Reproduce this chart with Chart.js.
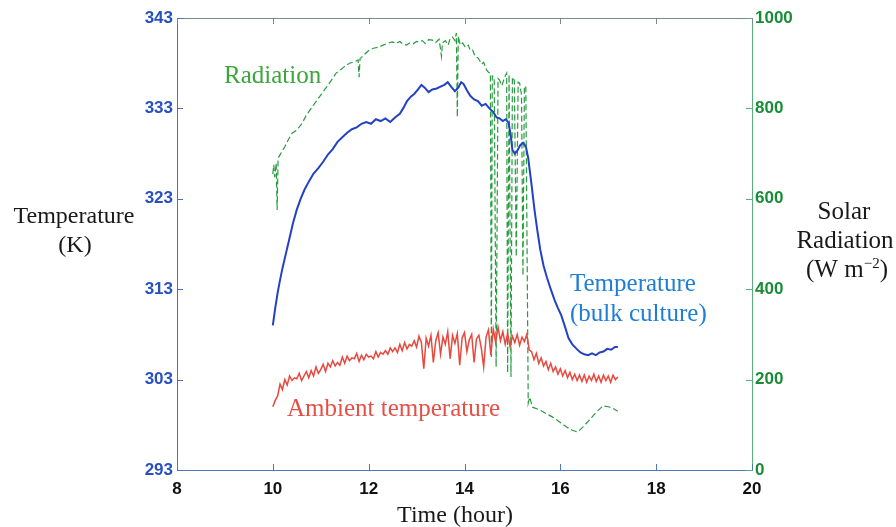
<!DOCTYPE html>
<html>
<head>
<meta charset="utf-8">
<script src="https://cdn.jsdelivr.net/npm/chart.js@4.4.0/dist/chart.umd.min.js"></script>
<style>
  html, body { margin: 0; padding: 0; background: #fff; }
  #wrap { width: 896px; height: 527px; }
</style>
</head>
<body>
<div id="wrap"><canvas id="solarChart" width="896" height="527"></canvas></div>
<script>
// tick values
const timeTicks = [8, 10, 12, 14, 16, 18, 20];
const tempTicks = [293, 303, 313, 323, 333, 343];
const radTicks = [0, 200, 400, 600, 800, 1000];

// bulk culture temperature (K)
const bulkTime = [10.00, 10.05, 10.10, 10.15, 10.20, 10.28, 10.35, 10.42, 10.50, 10.58, 10.66, 10.75, 10.85, 10.95,
  11.05, 11.15, 11.25, 11.35, 11.45, 11.55, 11.65, 11.75, 11.85, 11.95, 12.05, 12.15, 12.25, 12.35, 12.45, 12.55,
  12.65, 12.72, 12.80, 12.88, 12.95, 13.03, 13.10, 13.17, 13.25, 13.33, 13.42, 13.50, 13.58, 13.65, 13.72, 13.80,
  13.87, 13.93, 13.98, 14.05, 14.12, 14.20, 14.28, 14.36, 14.44, 14.52, 14.60, 14.67, 14.73, 14.80, 14.86, 14.92,
  14.96, 15.00, 15.05, 15.10, 15.16, 15.22, 15.28, 15.33, 15.40, 15.46, 15.52, 15.58, 15.65, 15.72, 15.80, 15.88,
  15.95, 16.02, 16.10, 16.17, 16.25, 16.34, 16.42, 16.50, 16.58, 16.66, 16.74, 16.82, 16.90, 16.98, 17.06, 17.14, 17.20];
const bulkTemp = [309.0, 310.9, 312.6, 314.0, 315.3, 317.1, 318.7, 320.3, 321.8, 323.0, 324.0, 324.9, 325.8, 326.4,
  327.1, 327.9, 328.5, 329.3, 329.8, 330.3, 330.7, 330.9, 331.3, 331.5, 331.3, 331.8, 331.6, 331.9, 331.5, 332.0,
  332.4, 333.0, 333.8, 334.3, 334.6, 335.1, 335.6, 335.3, 334.8, 335.1, 335.2, 335.4, 335.6, 335.9, 335.4, 334.9,
  335.3, 335.9, 335.7, 335.0, 334.4, 334.0, 333.8, 333.3, 333.5, 333.0, 332.6, 332.0, 331.9, 331.6, 331.8, 331.4,
  330.2, 328.4, 328.0, 328.3, 328.9, 329.2, 328.8, 327.5, 324.5, 321.8, 319.5, 317.4, 315.6, 314.3, 313.0, 311.8,
  310.9, 310.1, 308.8, 307.6, 306.9, 306.4, 306.0, 305.8, 305.7, 305.9, 305.7, 306.0, 306.1, 306.4, 306.3, 306.6, 306.6];

// ambient temperature (K), sampled every 0.05 h from 10.00 to 17.20
const ambStart = 10.0;
const ambStep = 0.05;
const ambTemp = [300.0, 300.7, 301.2, 302.5, 301.9, 303.0, 302.4, 303.4, 302.9, 303.2,
  303.1, 303.7, 302.9, 303.4, 303.9, 303.2, 304.0, 303.4, 304.4, 303.7,
  304.1, 304.7, 303.9, 304.8, 304.4, 305.1, 304.5, 304.9, 304.6, 305.5,
  304.8, 305.6, 305.1, 305.4, 305.3, 305.9, 305.0, 305.7, 305.2, 305.8,
  305.5, 305.6, 305.3, 306.1, 305.5, 306.0, 305.8, 306.2, 305.8, 306.5,
  306.1, 306.5, 306.0, 306.9, 306.2, 307.1, 306.4, 306.9, 306.7, 307.3,
  306.6, 307.8, 307.1, 304.2, 307.6, 306.7, 307.9, 304.9, 307.3, 308.2,
  305.8, 307.7, 306.9, 308.3, 305.3, 307.9, 307.0, 308.1, 304.6, 307.6,
  308.2, 306.1, 307.4, 308.0, 304.9, 307.5, 307.9, 306.5, 304.4, 307.7,
  308.5, 305.7, 308.6, 307.1, 308.8, 307.3, 308.3, 306.9, 308.1, 306.7,
  307.8, 307.1, 308.0, 306.8, 307.7, 307.2, 308.0, 306.3, 306.1, 305.2,
  305.9, 304.8, 305.4, 304.5, 305.0, 304.1, 304.8, 303.9, 304.4, 303.6,
  304.2, 303.4, 304.0, 303.2, 303.8, 303.0, 303.6, 302.9, 303.5, 302.8,
  303.5, 302.7, 303.4, 302.9, 303.6, 302.8, 303.4, 302.7, 303.5, 302.9,
  303.4, 302.7, 303.5, 303.0, 303.3];

// solar radiation (W m-2)
const radTime = [10.00, 10.02, 10.04, 10.07, 10.09, 10.11, 10.17, 10.25, 10.32, 10.40, 10.50, 10.61, 10.70, 10.82,
  10.92, 11.02, 11.12, 11.22, 11.32, 11.42, 11.50, 11.60, 11.70, 11.78, 11.80, 11.82, 11.90, 12.01, 12.10, 12.22,
  12.30, 12.40, 12.49, 12.58, 12.65, 12.72, 12.79, 12.86, 12.93, 13.00, 13.06, 13.12, 13.18, 13.25, 13.33, 13.40,
  13.47, 13.52, 13.54, 13.60, 13.66, 13.70, 13.75, 13.80, 13.83, 13.85, 13.87, 13.91, 13.96, 14.02, 14.08, 14.12,
  14.17, 14.22, 14.28, 14.31, 14.36, 14.40, 14.46, 14.50, 14.54, 14.56, 14.58, 14.62, 14.66, 14.70, 14.73, 14.78,
  14.84, 14.88, 14.90, 14.93, 14.97, 15.00, 15.04, 15.08, 15.12, 15.15, 15.19, 15.22, 15.25, 15.28, 15.33, 15.36,
  15.42, 15.57, 15.70, 15.84, 16.00, 16.13, 16.25, 16.36, 16.48, 16.61, 16.75, 16.89, 17.00, 17.09, 17.20];
const radValue = [655, 675, 648, 679, 575, 690, 701, 715, 730, 745, 752, 767, 785, 803,
  818, 832, 847, 862, 878, 886, 893, 900, 903, 907, 869, 910, 918, 929, 933, 936,
  940, 944, 947, 944, 948, 942, 940, 945, 943, 948, 947, 950, 944, 952, 951, 946,
  953, 915, 945, 950, 940, 955, 958, 950, 967, 781, 960, 940, 945, 935, 940, 928,
  929, 915, 912, 907, 898, 902, 885, 880, 878, 250, 872, 869, 228, 866, 863, 850,
  870, 878, 215, 875, 206, 869, 862, 472, 858, 856, 830, 430, 850, 847, 148, 161,
  139, 133, 125, 117, 105, 95, 88, 84, 96, 111, 128, 142, 140, 137, 130];

const pts = (xs, ys) => ys.map((y, i) => ({ x: xs[i], y: y }));
const ambTime = ambTemp.map((_, i) => +(ambStart + i * ambStep).toFixed(2));

const serif = "'Liberation Serif', 'DejaVu Serif', serif";
const sans = "'Liberation Sans', Arial, sans-serif";

// inward ticks, top frame line and all free text
const decorPlugin = {
  id: 'decor',
  afterDraw(chart) {
    const ctx = chart.ctx;
    const a = chart.chartArea;
    const sx = chart.scales.x, sl = chart.scales.yT, sr = chart.scales.yR;
    ctx.save();
    ctx.lineWidth = 1;
    // top frame
    ctx.strokeStyle = 'rgb(120,135,145)';
    ctx.beginPath(); ctx.moveTo(a.left, a.top + 0.5); ctx.lineTo(a.right, a.top + 0.5); ctx.stroke();
    timeTicks.forEach(v => {
      const px = Math.round(sx.getPixelForValue(v)) + 0.5;
      ctx.strokeStyle = 'rgb(120,135,145)';
      ctx.beginPath(); ctx.moveTo(px, a.top); ctx.lineTo(px, a.top + 6); ctx.stroke();
      ctx.strokeStyle = 'rgb(80,120,190)';
      ctx.beginPath(); ctx.moveTo(px, a.bottom); ctx.lineTo(px, a.bottom - 6); ctx.stroke();
    });
    ctx.strokeStyle = 'rgb(70,110,200)';
    tempTicks.forEach(v => {
      const py = Math.round(sl.getPixelForValue(v)) + 0.5;
      ctx.beginPath(); ctx.moveTo(a.left, py); ctx.lineTo(a.left + 6, py); ctx.stroke();
    });
    ctx.strokeStyle = 'rgb(90,175,120)';
    radTicks.forEach(v => {
      const py = Math.round(sr.getPixelForValue(v)) + 0.5;
      ctx.beginPath(); ctx.moveTo(a.right, py); ctx.lineTo(a.right - 6, py); ctx.stroke();
    });

    // axis titles
    ctx.fillStyle = 'rgb(25,25,25)';
    ctx.textAlign = 'center';
    ctx.textBaseline = 'alphabetic';
    ctx.font = '24px ' + serif;
    ctx.fillText('Temperature', 74, 223);
    ctx.fillText('(K)', 75, 252);
    ctx.fillText('Time (hour)', 455, 522);
    ctx.font = '25px ' + serif;
    ctx.fillText('Solar', 844, 219);
    ctx.fillText('Radiation', 845, 248);
    // (W m^-2) with superscript
    const p1 = '(W m', p2 = '\u22122', p3 = ')';
    const w1 = ctx.measureText(p1).width, w3 = ctx.measureText(p3).width;
    ctx.font = '15px ' + serif;
    const w2 = ctx.measureText(p2).width;
    const x0 = 847 - (w1 + w2 + w3) / 2;
    ctx.textAlign = 'left';
    ctx.font = '25px ' + serif;
    ctx.fillText(p1, x0, 277);
    ctx.font = '15px ' + serif;
    ctx.fillText(p2, x0 + w1, 268);
    ctx.font = '25px ' + serif;
    ctx.fillText(p3, x0 + w1 + w2, 277);

    // series labels
    ctx.textBaseline = 'middle';
    ctx.font = '25px ' + serif;
    ctx.fillStyle = 'rgb(60,165,60)';
    ctx.fillText('Radiation', 224, 76);
    ctx.fillStyle = 'rgb(30,125,215)';
    ctx.fillText('Temperature', 570, 284);
    ctx.fillText('(bulk culture)', 570, 314);
    ctx.fillStyle = 'rgb(228,80,70)';
    ctx.fillText('Ambient temperature', 287, 409);
    ctx.restore();
  }
};

const tickFont = { family: sans, size: 17, weight: 'bold' };

const canvas = document.getElementById('solarChart');
new Chart(canvas.getContext('2d'), {
  type: 'line',
  data: {
    datasets: [{
      label: 'Temperature (bulk culture)',
      data: pts(bulkTime, bulkTemp),
      yAxisID: 'yT',
      borderColor: 'rgb(35,65,195)',
      borderWidth: 2,
      order: 0
    }, {
      label: 'Ambient temperature',
      data: pts(ambTime, ambTemp),
      yAxisID: 'yT',
      borderColor: 'rgb(232,72,62)',
      borderWidth: 1.5,
      order: 1
    }, {
      label: 'Radiation',
      data: pts(radTime, radValue),
      yAxisID: 'yR',
      borderColor: 'rgb(40,155,65)',
      borderWidth: 1.2,
      borderDash: [6, 3],
      order: 2
    }]
  },
  options: {
    responsive: false,
    animation: false,
    devicePixelRatio: 1,
    layout: { padding: { top: 18, left: 0, right: 0, bottom: 0 } },
    elements: { point: { radius: 0 }, line: { tension: 0 } },
    plugins: { legend: { display: false }, tooltip: { enabled: false } },
    scales: {
      x: {
        type: 'linear', min: 8, max: 20,
        afterBuildTicks: s => { s.ticks = timeTicks.map(v => ({ value: v })); },
        afterFit: s => { s.height = 57; },
        grid: { display: false, drawTicks: false },
        border: { display: true, color: 'rgb(80,120,190)', width: 1 },
        ticks: { color: '#111', padding: 9, maxRotation: 0, font: tickFont, callback: v => String(v) }
      },
      yT: {
        type: 'linear', position: 'left', min: 293, max: 343,
        afterBuildTicks: s => { s.ticks = tempTicks.map(v => ({ value: v })); },
        afterFit: s => { s.width = 177; },
        grid: { display: false, drawTicks: false },
        border: { display: true, color: 'rgb(70,110,200)', width: 1 },
        ticks: { color: 'rgb(40,80,190)', padding: 4, font: tickFont, callback: v => String(v) }
      },
      yR: {
        type: 'linear', position: 'right', min: 0, max: 1000,
        afterBuildTicks: s => { s.ticks = radTicks.map(v => ({ value: v })); },
        afterFit: s => { s.width = 144; },
        grid: { display: false, drawTicks: false },
        border: { display: true, color: 'rgb(90,175,120)', width: 1 },
        ticks: { color: 'rgb(25,140,55)', padding: 3, font: tickFont, callback: v => String(v) }
      }
    }
  },
  plugins: [decorPlugin]
});
</script>
</body>
</html>
